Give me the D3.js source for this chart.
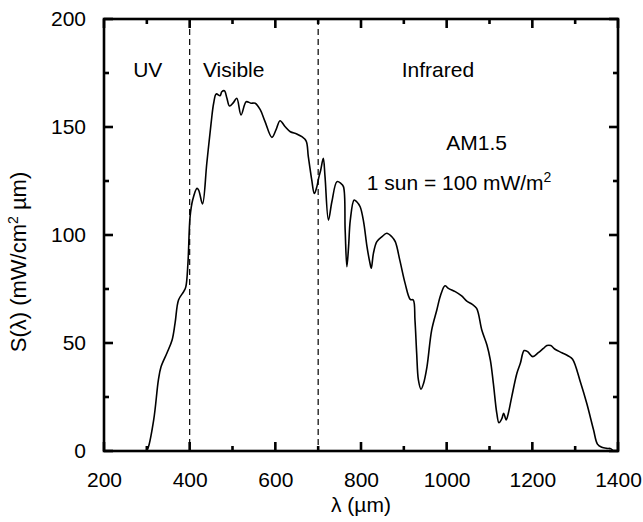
<!DOCTYPE html>
<html>
    <head>
        <meta charset="UTF-8">
        <script src="https://d3js.org/d3.v7.min.js"></script>
        <style>
            body { margin: 0; background: #fff; }
            text { font-family: "Liberation Sans", Arial, sans-serif; fill: #000; }
        </style>
    </head>

    <body>

        <svg id="canvas"></svg>

        <script>

            // wavelength (x) and spectral irradiance (y)
            wavelength = [297, 302, 316, 327, 333, 347, 359, 366, 374, 386, 391, 396, 401, 407, 417, 421, 430, 440, 450, 456,
                462, 471, 475, 481, 487, 493, 502, 510, 520, 532, 543, 553, 565, 576, 592, 602, 611, 623, 635, 650,
                662, 672, 677, 685, 691, 697, 701, 706, 712, 716, 724, 732, 744, 753, 759, 763, 767, 771, 775, 784,
                790, 798, 806, 814, 821, 824, 829, 837, 849, 860, 872, 880, 891, 903, 915, 922, 926, 930, 934, 940,
                946, 954, 965, 977, 986, 996, 1004, 1020, 1035, 1047, 1059, 1070, 1082, 1094, 1102, 1109, 1117, 1122, 1129, 1133,
                1139, 1144, 1152, 1164, 1172, 1181, 1189, 1201, 1214, 1226, 1234, 1243, 1253, 1269, 1284, 1294, 1312, 1327, 1343, 1352,
                1362, 1374, 1383, 1389];
            irradiance = [0, 1, 14.4, 32.9, 38.9, 45.4, 51.4, 59.3, 69.9, 73.8, 76, 87, 108.5, 116.2, 121.6, 120.8, 114.4, 133.2, 151.7, 161,
                165.3, 164.5, 166.3, 166.8, 163.3, 159.7, 161.3, 163.3, 155.6, 161.7, 161, 161, 157.9, 152.5, 145.2, 148.9, 152.9, 150.1, 147.8, 146.8,
                145.5, 143.5, 136.3, 125.5, 119.2, 122.4, 126.2, 130.1, 135.5, 127, 106.9, 115.4, 124.7, 123.9, 122.4, 102.3, 85.3, 94.6, 106.9, 116.2,
                115.4, 113.1, 106.2, 94.6, 86.9, 84.6, 91.5, 96.9, 99.2, 100.8, 99.2, 96.9, 88, 77.6, 70.2, 69.9, 60.6, 45.2, 32.9, 28.6,
                31.3, 39, 56, 65.3, 72.2, 76.5, 75.3, 73.8, 71.8, 69.4, 68, 66, 56, 49.1, 42.1, 31.3, 17.5, 13.1, 15.1, 17.5,
                14.4, 17.5, 25.2, 36, 40.6, 46.5, 46, 43.7, 45.5, 47.5, 48.8, 48.8, 47.1, 45.5, 44, 42.5, 32.1, 22.1, 9.7, 3.2,
                1.7, 1.2, 1.1, 0];

            xMajor = [200, 400, 600, 800, 1000, 1200, 1400];
            xMinor = [300, 500, 700, 900, 1100, 1300];
            yMajor = [0, 50, 100, 150, 200];
            yMinor = [25, 75, 125, 175];
            regionBounds = [400, 700];
            regionLabels = ["UV", "Visible", "Infrared"];
            regionStart = [268, 431, 895];   // wavelength where each label begins

            width = 643;
            height = 522;
            margin = {left: 104, right: 25, top: 19, bottom: 71};
            w = width - margin.left - margin.right;
            h = height - margin.top - margin.bottom;

            canvas = d3.select("#canvas")
                .attr("width", width)
                .attr("height", height);

            chart = canvas.append("g")
                .attr("transform", "translate(" + margin.left + "," + margin.top + ")");

            x = d3.scaleLinear().domain([200, 1400]).range([0, w]);
            y = d3.scaleLinear().domain([0, 200]).range([h, 0]);

            // tick labels from the d3 axes, tick marks drawn inward on all four sides
            xAxis = chart.append("g")
                .attr("transform", "translate(0," + h + ")")
                .call(d3.axisBottom(x).tickValues(xMajor).tickSize(0).tickPadding(21).tickFormat(d3.format("d")));
            yAxis = chart.append("g")
                .call(d3.axisLeft(y).tickValues(yMajor).tickSize(0).tickPadding(18));
            [xAxis, yAxis].forEach(a => {
                a.select(".domain").remove();
                a.selectAll("text").style("font-size", "21px").style("font-family", "Liberation Sans, Arial, sans-serif");
            });

            tickGroup = chart.append("g")
                .attr("stroke", "#000")
                .attr("stroke-width", 2.6);

            xTicks = xMajor.map(d => ({v: d, len: 9})).concat(xMinor.map(d => ({v: d, len: 5})));
            yTicks = yMajor.map(d => ({v: d, len: 9})).concat(yMinor.map(d => ({v: d, len: 5})));

            tickGroup.selectAll(".xb").data(xTicks).enter().append("line")
                .attr("class", "xb")
                .attr("x1", d => x(d.v)).attr("x2", d => x(d.v))
                .attr("y1", h).attr("y2", d => h - d.len);
            tickGroup.selectAll(".xt").data(xTicks).enter().append("line")
                .attr("class", "xt")
                .attr("x1", d => x(d.v)).attr("x2", d => x(d.v))
                .attr("y1", 0).attr("y2", d => d.len);
            tickGroup.selectAll(".yl").data(yTicks).enter().append("line")
                .attr("class", "yl")
                .attr("y1", d => y(d.v)).attr("y2", d => y(d.v))
                .attr("x1", 0).attr("x2", d => d.len);
            tickGroup.selectAll(".yr").data(yTicks).enter().append("line")
                .attr("class", "yr")
                .attr("y1", d => y(d.v)).attr("y2", d => y(d.v))
                .attr("x1", w).attr("x2", d => w - d.len);

            // region dividers
            chart.selectAll(".divider")
                .data(regionBounds).enter()
                    .append("line")
                        .attr("class", "divider")
                        .attr("x1", d => x(d)).attr("x2", d => x(d))
                        .attr("y1", 0).attr("y2", h)
                        .attr("stroke", "#000")
                        .attr("stroke-width", 1.2)
                        .attr("stroke-dasharray", "6,4");

            points = wavelength.map((d, i) => [d, irradiance[i]]);

            line = d3.line()
                .curve(d3.curveCatmullRom.alpha(0.5))
                .x(d => x(d[0]))
                .y(d => y(d[1]));

            chart.append("path")
                .attr("d", line(points))
                .attr("fill", "none")
                .attr("stroke", "#000")
                .attr("stroke-width", 1.6)
                .attr("stroke-linejoin", "round");

            // frame
            chart.append("rect")
                .attr("width", w).attr("height", h)
                .attr("fill", "none")
                .attr("stroke", "#000")
                .attr("stroke-width", 2.6);

            // annotations
            chart.selectAll(".region")
                .data(regionLabels).enter()
                    .append("text")
                        .attr("class", "region")
                        .attr("x", (d, i) => x(regionStart[i]))
                        .attr("y", 58)
                        .style("font-size", "21px")
                        .text(d => d);

            chart.append("text")
                .attr("x", x(1070))
                .attr("y", 131)
                .attr("text-anchor", "middle")
                .style("font-size", "21px")
                .text("AM1.5");

            sun = chart.append("text")
                .attr("x", x(1029))
                .attr("y", 171)
                .attr("text-anchor", "middle")
                .style("font-size", "21px");
            sun.append("tspan").text("1 sun = 100 mW/m");
            sun.append("tspan").attr("dy", -8).style("font-size", "14px").text("2");

            // axis titles
            chart.append("text")
                .attr("x", w / 2)
                .attr("y", h + 61)
                .attr("text-anchor", "middle")
                .style("font-size", "21px")
                .text("\u03bb (\u00b5m)");

            yt = chart.append("text")
                .attr("transform", "translate(-78," + (h / 2 + 27) + ") rotate(-90)")
                .attr("text-anchor", "middle")
                .style("font-size", "22px");
            yt.append("tspan").text("S(\u03bb) (mW/cm");
            yt.append("tspan").attr("dy", -8).style("font-size", "14px").text("2");
            yt.append("tspan").attr("dy", 8).text(" \u00b5m)");

        </script>

    </body>

</html>
